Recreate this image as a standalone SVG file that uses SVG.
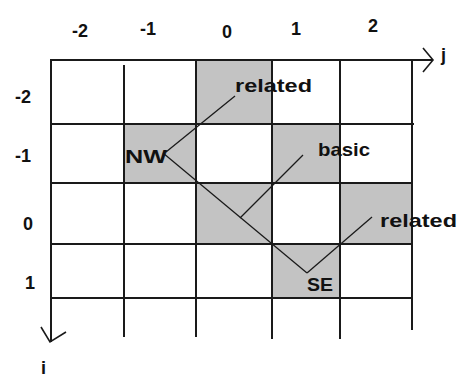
<svg xmlns="http://www.w3.org/2000/svg" width="461" height="379" viewBox="0 0 461 379">
<style>
.bg{fill:#ffffff}
.cell{fill:#c3c3c3;stroke:none}
.grid{stroke:#1a1a1a;stroke-width:2;fill:none}
.link{stroke:#1a1a1a;stroke-width:1.3;fill:none}
.axis{stroke:#1a1a1a;stroke-width:1.6;fill:none}
.num{font-family:"Liberation Sans",Arial,sans-serif;font-size:18px;font-weight:bold;fill:#111}
.lbl{font-family:"Liberation Sans",Arial,sans-serif;font-size:19px;font-weight:bold;fill:#111}
</style>
<rect class="bg" x="0" y="0" width="461" height="379"/>
<g id="shading">
<rect class="cell" x="196" y="60" width="76" height="64"/>
<rect class="cell" x="124" y="124" width="72" height="59"/>
<rect class="cell" x="272" y="124" width="68" height="59"/>
<rect class="cell" x="196" y="183" width="76" height="61"/>
<rect class="cell" x="340" y="183" width="72" height="61"/>
<rect class="cell" x="272" y="244" width="68" height="54"/>
</g>
<g id="grid">
<line class="grid" x1="51" y1="60" x2="433" y2="60"/>
<line class="grid" x1="51" y1="124" x2="414" y2="124"/>
<line class="grid" x1="51" y1="183" x2="412" y2="183"/>
<line class="grid" x1="51" y1="244" x2="412" y2="244"/>
<line class="grid" x1="51" y1="298" x2="412" y2="298"/>
<line class="grid" x1="51" y1="59" x2="51" y2="342"/>
<line class="grid" x1="124" y1="65" x2="124" y2="337"/>
<line class="grid" x1="196" y1="60" x2="196" y2="337"/>
<line class="grid" x1="272" y1="60" x2="272" y2="339"/>
<line class="grid" x1="340" y1="60" x2="340" y2="339"/>
<line class="grid" x1="412" y1="60" x2="412" y2="330"/>
<polyline class="axis" points="423,48 433,60 423,72"/>
<polyline class="axis" points="41,327 50,342 66,332"/>
</g>
<g id="connectors">
<line class="link" x1="166" y1="152" x2="235" y2="96"/>
<line class="link" x1="163" y1="153" x2="307" y2="273"/>
<line class="link" x1="307" y1="273" x2="372" y2="217"/>
<line class="link" x1="240" y1="218" x2="303" y2="155"/>
</g>
<g id="axis-labels">
<text class="num" x="72" y="37">-2</text>
<text class="num" x="140" y="35">-1</text>
<text class="num" x="222" y="38">0</text>
<text class="num" x="291" y="35">1</text>
<text class="num" x="368" y="32">2</text>
<text class="num" x="15" y="103">-2</text>
<text class="num" x="15" y="162">-1</text>
<text class="num" x="23" y="230">0</text>
<text class="num" x="25" y="289">1</text>
<text class="num" x="441" y="61">j</text>
<text class="num" x="41" y="374">i</text>
</g>
<g id="node-related-top"><text class="lbl" x="235" y="92" textLength="77" lengthAdjust="spacingAndGlyphs">related</text></g>
<g id="node-NW"><text class="lbl" x="125" y="163" textLength="42" lengthAdjust="spacingAndGlyphs">NW</text></g>
<g id="node-basic"><text class="lbl" x="318" y="156" textLength="52" lengthAdjust="spacingAndGlyphs">basic</text></g>
<g id="node-related-right"><text class="lbl" x="380" y="227" textLength="77" lengthAdjust="spacingAndGlyphs">related</text></g>
<g id="node-SE"><text class="lbl" x="307" y="291" textLength="26" lengthAdjust="spacingAndGlyphs">SE</text></g>
</svg>
